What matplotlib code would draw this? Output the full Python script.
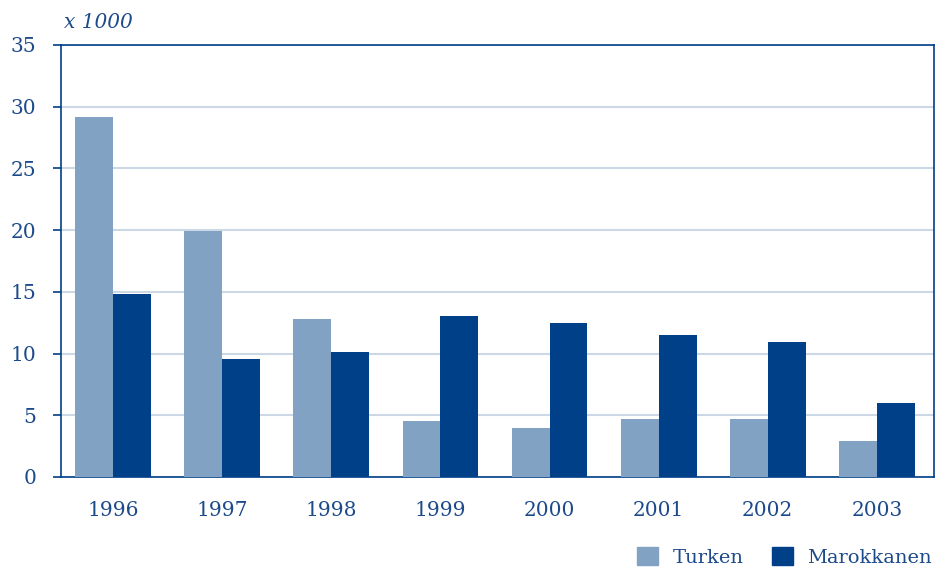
import numpy as np
import matplotlib.pyplot as plt
from matplotlib.patches import Patch

years = ['1996', '1997', '1998', '1999', '2000', '2001', '2002', '2003']
turken = [29.2, 19.95, 12.8, 4.5, 4.0, 4.7, 4.7, 2.9]
marokkanen = [14.8, 9.6, 10.15, 13.05, 12.45, 11.5, 10.9, 6.0]

light = '#82a2c4'
dark = '#004088'
textc = '#1c4a8a'

plt.rcParams['font.family'] = ['DejaVu Serif']

fig = plt.figure(figsize=(9.36, 5.67), dpi=100)
ax = fig.add_axes([61 / 936, 1 - 477 / 567, 873 / 936, 432 / 567])

x = np.arange(len(years))
w = 0.347
ax.bar(x - w / 2, turken, w, color=light, zorder=3)
ax.bar(x + w / 2, marokkanen, w, color=dark, zorder=3)

ax.set_xlim(-0.477, 7.523)
ax.set_ylim(0, 35)
ax.set_yticks(range(0, 36, 5))
ax.set_xticks(x)
ax.set_xticklabels(years)
ax.yaxis.grid(True, color='#cdd8e6', linewidth=1.5, zorder=0)
ax.tick_params(axis='y', length=6, width=1.2, color=dark, labelsize=14.5, labelcolor=textc, pad=12)
ax.tick_params(axis='x', length=0, labelsize=14.5, labelcolor=textc, pad=17)
for s in ax.spines.values():
    s.set_color(dark)
    s.set_linewidth(1.2)

fig.text(64 / 936, 1 - 22 / 567, 'x 1000', fontsize=14.5, style='italic', color=textc, va='center')

handles = [Patch(color=light), Patch(color=dark)]
fig.legend(handles, ['Turken', 'Marokkanen'], loc='center right', bbox_to_anchor=(1.0, 1 - 557 / 567),
           frameon=False, ncol=2, fontsize=14, labelcolor=textc, handlelength=1.05, handleheight=1.05,
           columnspacing=1.5, handletextpad=0.75, borderaxespad=0.0, borderpad=0.2)

fig.savefig('out.png', dpi=100)
